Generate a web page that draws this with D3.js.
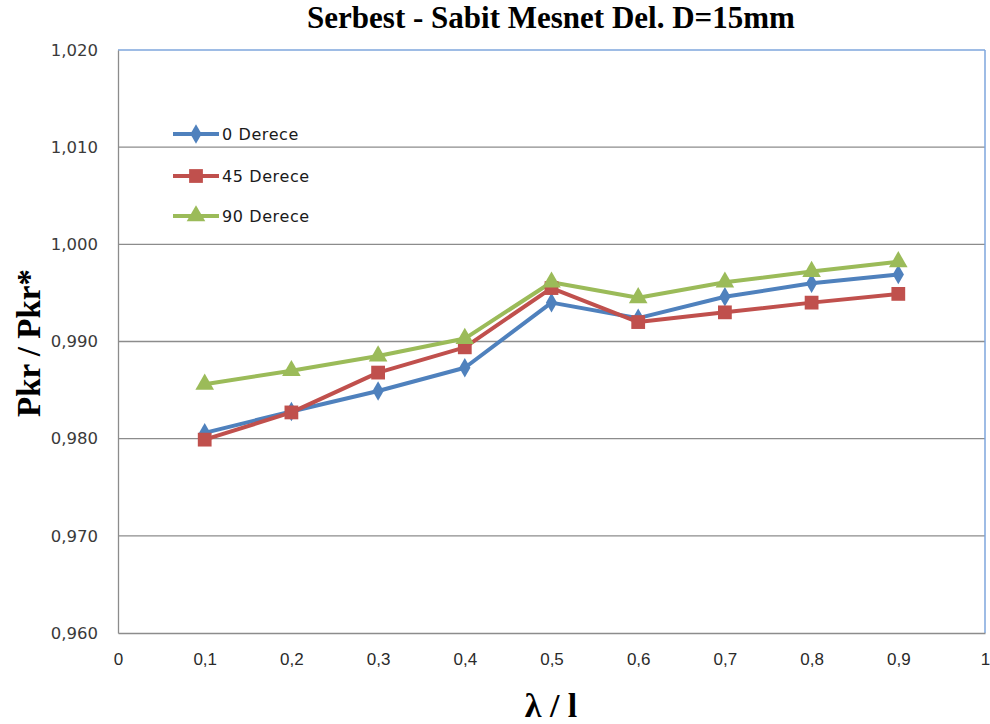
<!DOCTYPE html>
<html>
<head>
<meta charset="utf-8">
<script src="https://cdn.jsdelivr.net/npm/d3@7"></script>
<style>
  html, body { margin: 0; padding: 0; background: #ffffff; }
  svg { display: block; }
</style>
</head>
<body>
<svg id="chart" width="990" height="724"></svg>
<script>
// Ratio values per series, sampled at each lambda / l position
const xValues = [0.1, 0.2, 0.3, 0.4, 0.5, 0.6, 0.7, 0.8, 0.9];
const derece0  = [0.9806, 0.9828, 0.9849, 0.9873, 0.9940, 0.9924, 0.9946, 0.9960, 0.9969];
const derece45 = [0.9799, 0.9827, 0.9868, 0.9894, 0.9955, 0.9920, 0.9930, 0.9940, 0.9949];
const derece90 = [0.9856, 0.9870, 0.9885, 0.9903, 0.9961, 0.9945, 0.9961, 0.9972, 0.9982];
const seriesNames = ["0 Derece", "45 Derece", "90 Derece"];
const xTicks = [0, 0.1, 0.2, 0.3, 0.4, 0.5, 0.6, 0.7, 0.8, 0.9, 1];
const yTicks = [0.960, 0.970, 0.980, 0.990, 1.000, 1.010, 1.020];

const series = [
  { name: seriesNames[0], values: derece0,  color: "#4f81bd", symbol: d3.symbolDiamond,  size: 110 },
  { name: seriesNames[1], values: derece45, color: "#c0504d", symbol: d3.symbolSquare,   size: 190 },
  { name: seriesNames[2], values: derece90, color: "#9bbb59", symbol: d3.symbolTriangle, size: 150 }
];

const svg = d3.select("#chart");
const plot = { left: 118, top: 50, right: 985, bottom: 633 };

const x = d3.scaleLinear().domain([0, 1]).range([plot.left, plot.right]);
const y = d3.scaleLinear().domain([0.960, 1.020]).range([plot.bottom, plot.top]);

const fmtY = v => d3.format(".3f")(v).replace(".", ",");
const fmtX = v => (v === 0 || v === 1) ? String(v) : d3.format(".1f")(v).replace(".", ",");

// Horizontal gridlines
svg.append("g")
  .selectAll("line")
  .data(yTicks.filter(t => t > 0.960 && t < 1.020))
  .join("line")
  .attr("x1", plot.left).attr("x2", plot.right)
  .attr("y1", d => y(d)).attr("y2", d => y(d))
  .attr("stroke", "#8c8c8c").attr("stroke-width", 1.3);

// Plot frame: top and right in light blue, left and bottom in gray
svg.append("line")
  .attr("x1", plot.left).attr("x2", plot.right)
  .attr("y1", plot.top).attr("y2", plot.top)
  .attr("stroke", "#7ea6dc").attr("stroke-width", 1.5);
svg.append("line")
  .attr("x1", plot.right).attr("x2", plot.right)
  .attr("y1", plot.top).attr("y2", plot.bottom)
  .attr("stroke", "#7ea6dc").attr("stroke-width", 1.5);

// Y axis
const yAxis = svg.append("g")
  .attr("transform", `translate(${plot.left},0)`)
  .call(d3.axisLeft(y).tickValues(yTicks).tickFormat(fmtY).tickSize(0).tickPadding(20));
yAxis.select(".domain").attr("stroke", "#8c8c8c").attr("stroke-width", 1.3);
yAxis.selectAll("text")
  .attr("fill", "#3a3a3a")
  .style("font-family", "'DejaVu Sans', Verdana, sans-serif")
  .style("font-size", "16.5px");

// X axis
const xAxis = svg.append("g")
  .attr("transform", `translate(0,${plot.bottom})`)
  .call(d3.axisBottom(x).tickValues(xTicks).tickFormat(fmtX).tickSize(0).tickPadding(20));
xAxis.select(".domain").attr("stroke", "#8c8c8c").attr("stroke-width", 1.3);
xAxis.selectAll("text")
  .attr("fill", "#2a2a2a")
  .style("font-family", "'Liberation Sans Narrow', 'Liberation Sans', Arial, sans-serif")
  .style("font-stretch", "condensed")
  .style("font-size", "17px");

// Series lines and markers
const line = d3.line()
  .x((d, i) => x(xValues[i]))
  .y(d => y(d));

series.forEach(s => {
  svg.append("path")
    .datum(s.values)
    .attr("fill", "none")
    .attr("stroke", s.color)
    .attr("stroke-width", 4)
    .attr("stroke-linejoin", "round")
    .attr("d", line);
});
series.forEach(s => {
  svg.append("g")
    .selectAll("path")
    .data(s.values)
    .join("path")
    .attr("transform", (d, i) => `translate(${x(xValues[i])},${y(d)})`)
    .attr("d", d3.symbol().type(s.symbol).size(s.size))
    .attr("fill", s.color);
});

// Legend
const legend = svg.append("g");
const legendRows = [134, 176, 216];
series.forEach((s, i) => {
  const g = legend.append("g").attr("transform", `translate(0,${legendRows[i]})`);
  g.append("line")
    .attr("x1", 173).attr("x2", 219)
    .attr("y1", 0).attr("y2", 0)
    .attr("stroke", s.color).attr("stroke-width", 4);
  g.append("path")
    .attr("transform", "translate(196,0)")
    .attr("d", d3.symbol().type(s.symbol).size(s.size))
    .attr("fill", s.color);
  g.append("text")
    .attr("x", 222).attr("y", 6)
    .attr("fill", "#1a1a1a")
    .style("font-family", "'DejaVu Sans', Verdana, sans-serif")
    .style("font-size", "16px")
    .style("letter-spacing", "0.6px")
    .text(s.name);
});

// Title
svg.append("text")
  .attr("x", 551).attr("y", 28)
  .attr("text-anchor", "middle")
  .style("font-family", "'Liberation Serif', 'Times New Roman', serif")
  .style("font-weight", "bold")
  .style("font-size", "31px")
  .attr("fill", "#000")
  .text("Serbest - Sabit Mesnet Del. D=15mm");

// Axis titles
svg.append("text")
  .attr("transform", "translate(40,343) rotate(-90)")
  .attr("text-anchor", "middle")
  .style("font-family", "'Liberation Serif', 'Times New Roman', serif")
  .style("font-weight", "bold")
  .style("font-size", "33px")
  .attr("fill", "#000")
  .text("Pkr / Pkr*");

svg.append("text")
  .attr("x", 551).attr("y", 717)
  .attr("text-anchor", "middle")
  .style("font-family", "'Liberation Serif', 'Times New Roman', serif")
  .style("font-weight", "bold")
  .style("font-size", "34px")
  .attr("fill", "#000")
  .text("λ / l");
</script>
</body>
</html>
